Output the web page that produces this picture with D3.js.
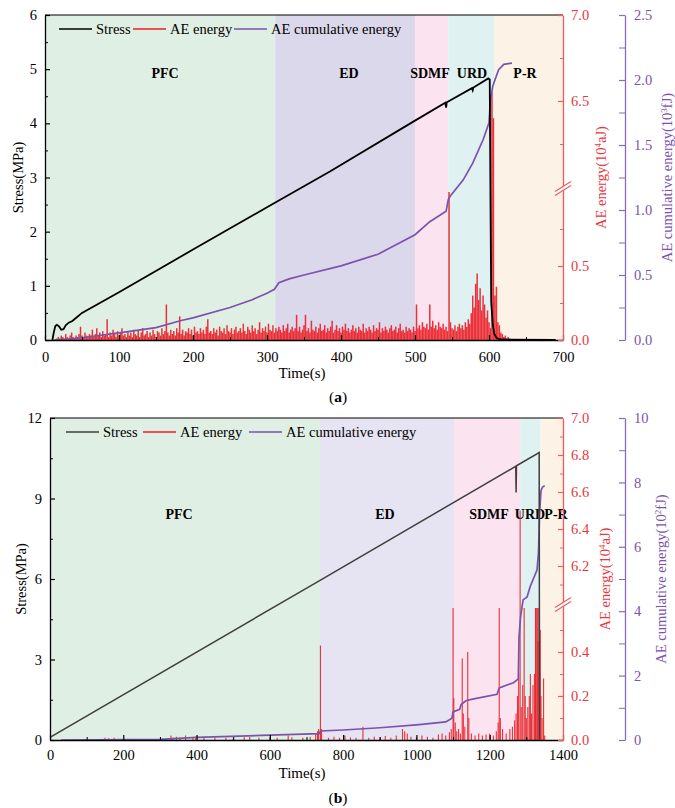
<!DOCTYPE html>
<html><head><meta charset="utf-8">
<script src="https://cdn.jsdelivr.net/npm/d3@7"></script>
<style>
body{margin:0;background:#fff;}
svg{display:block;font-family:"Liberation Serif","Times New Roman",serif;}
</style></head><body>
<svg id="c" width="675" height="808"></svg>
<script>
// ---------------- DATA ----------------
const stageNames = ["PFC","ED","SDMF","URD","P-R"];
const stageBoundsA = [0,311,500,545,607,700];
const stageBoundsB = [0,737,1103,1283,1339,1400];

// Panel (a) stress [time s, MPa]
const stressA = [[10,0],[12,0.15],[14,0.26],[16,0.28],[19,0.25],[22,0.19],[25,0.2],[28,0.27],[32,0.32],[37,0.35],[43,0.42],[50,0.5],[100,0.88],[200,1.67],[300,2.45],[385,3.11],[500,4.05],[541,4.38],[542,4.29],[543,4.39],[577,4.65],[578,4.61],[579,4.66],[599,4.83],[601,4.81],[602,2.6],[603,0.7],[605,0.3],[607,0.12],[610,0.04],[615,0.01],[690,0]];
// Panel (a) AE cumulative energy (10^3 fJ)
const cumA = [[12,0],[30,0.005],[60,0.025],[100,0.055],[150,0.095],[184,0.15],[200,0.17],[250,0.25],[280,0.31],[300,0.36],[310,0.39],[316,0.44],[330,0.47],[350,0.5],[400,0.57],[450,0.66],[500,0.81],[520,0.91],[542,0.99],[545,1.08],[548,1.11],[565,1.23],[578,1.36],[592,1.54],[600,1.67],[602,1.85],[605,1.95],[608,2.0],[613,2.08],[620,2.12],[631,2.13]];
// Panel (a) AE energy (10^4 aJ), sampled every 2 s from t = 14 s
const aeStartA = 14, aeStepA = 2;
const aeEnergyA = [
0.00,0.01,0.02,0.01,0.03,0.02,0.01,0.04,0.02,0.01,0.03,0.05,0.02,0.01,0.03,0.02,0.04,0.09,0.03,0.02,0.05,0.03,0.02,0.04,0.03,
0.07,0.02,0.04,0.08,0.03,0.05,0.02,0.06,0.03,0.04,0.14,0.02,0.05,0.03,0.07,0.04,0.02,0.06,0.03,0.05,0.08,0.03,0.04,0.02,0.06,
0.03,0.05,0.02,0.07,0.04,0.03,0.06,0.02,0.05,0.08,0.03,0.04,0.06,0.02,0.05,0.03,0.07,0.04,0.02,0.06,0.05,0.03,0.08,0.04,0.06,
0.24,0.05,0.03,0.07,0.04,0.06,0.03,0.08,0.05,0.16,0.04,0.07,0.03,0.06,0.05,0.08,0.04,0.07,0.03,0.09,0.05,0.06,0.04,0.08,0.05,
0.07,0.04,0.09,0.14,0.05,0.06,0.04,0.08,0.05,0.07,0.03,0.09,0.06,0.05,0.08,0.04,0.10,0.06,0.05,0.08,0.04,0.07,0.09,0.05,0.06,
0.08,0.05,0.11,0.06,0.04,0.09,0.07,0.05,0.10,0.06,0.08,0.04,0.07,0.12,0.05,0.08,0.06,0.09,0.05,0.11,0.07,0.06,0.10,0.05,0.08,
0.06,0.09,0.07,0.05,0.10,0.06,0.08,0.11,0.05,0.07,0.09,0.06,0.08,0.17,0.06,0.09,0.05,0.07,0.10,0.17,0.06,0.08,0.05,0.13,0.07,
0.06,0.09,0.05,0.08,0.11,0.06,0.07,0.10,0.05,0.08,0.06,0.09,0.13,0.05,0.07,0.10,0.06,0.08,0.05,0.09,0.07,0.11,0.06,0.08,0.05,
0.07,0.10,0.06,0.08,0.05,0.09,0.07,0.06,0.11,0.05,0.08,0.06,0.09,0.07,0.05,0.10,0.06,0.08,0.07,0.12,0.05,0.08,0.06,0.09,0.07,
0.05,0.08,0.10,0.06,0.07,0.09,0.05,0.08,0.11,0.06,0.07,0.05,0.09,0.06,0.08,0.07,0.05,0.09,0.06,0.24,0.08,0.10,0.07,0.12,0.09,
0.08,0.11,0.07,0.24,0.09,0.13,0.08,0.10,0.07,0.12,0.09,0.08,0.11,0.07,0.09,0.06,1.00,0.12,0.08,0.07,0.10,0.06,0.09,0.11,0.08,
0.10,0.07,0.12,0.09,0.14,0.11,0.18,0.30,0.22,0.38,0.45,0.27,0.35,0.20,0.30,0.24,0.15,0.20,0.12,0.08,6.55,6.40,0.30,0.36,0.12,
0.10,0.05,0.04,0.02,0.03,0.01,0.02,0.01];

// Panel (b) stress
const stressB = [[0,0.1],[737,5.95],[1271,10.2],[1272,9.22],[1273,10.22],[1335,10.71],[1336,0.05]];
// Panel (b) AE cumulative energy (10^2 fJ)
const cumB = [[30,0],[300,0.02],[400,0.08],[600,0.15],[735,0.2],[738,0.28],[800,0.31],[900,0.38],[1000,0.47],[1080,0.56],[1097,0.68],[1100,0.87],[1118,0.95],[1122,1.1],[1135,1.22],[1150,1.26],[1220,1.42],[1226,1.62],[1265,1.78],[1278,1.9],[1280,3.2],[1284,3.8],[1291,4.35],[1302,4.44],[1310,4.75],[1329,5.28],[1333,5.8],[1336,7.0],[1340,7.75],[1344,7.85],[1350,7.9]];
// Panel (b) AE energy (10^4 aJ) [time, value]
const aeEnergyB = [[150,0.01],[160,0.008],[175,0.01],[330,0.02],[335,0.01],[345,0.015],[355,0.01],[370,0.02],[390,0.01],[398,0.015],
[420,0.01],[450,0.012],[480,0.01],[500,0.008],[530,0.012],[545,0.015],[570,0.01],[600,0.015],[620,0.01],[650,0.02],[660,0.012],[690,0.01],[710,0.015],[725,0.03],[730,0.04],[733,0.05],
[738,0.43],[741,0.05],[760,0.01],[775,0.015],[790,0.01],[805,0.02],[820,0.012],[835,0.01],[854,0.06],[870,0.01],[885,0.015],[900,0.012],[915,0.018],[930,0.01],[945,0.02],[962,0.05],[968,0.04],[975,0.03],[985,0.015],[1000,0.012],[1015,0.02],[1030,0.015],[1045,0.01],[1060,0.025],[1070,0.03],[1080,0.02],[1090,0.035],[1095,0.05],
[1100,0.6],[1102,0.19],[1106,0.08],[1110,0.04],[1115,0.05],[1120,0.03],[1125,0.37],[1128,0.12],[1132,0.06],[1140,0.40],[1143,0.1],[1150,0.03],[1160,0.02],[1170,0.03],[1180,0.02],[1190,0.025],[1200,0.03],[1210,0.02],[1218,0.04],[1223,0.08],[1226,0.6],[1229,0.1],[1235,0.05],[1245,0.03],[1255,0.05],[1262,0.06],[1268,0.09],[1272,0.12],[1276,0.2],[1279,0.3],[1283,6.5],[1286,0.15],[1290,0.25],[1294,0.6],[1297,0.2],[1300,0.1],[1304,0.15],[1308,0.2],[1311,0.3],[1314,0.12],[1318,0.25],[1322,0.3],[1325,0.6],[1327,0.6],[1330,0.6],[1332,0.45],[1334,0.6],[1336,0.3],[1338,0.5],[1340,0.2],[1343,0.1],[1347,0.28],[1350,0.02]];

// Tick values
const ticksA = {x:[0,100,200,300,400,500,600,700], xm:[50,150,250,350,450,550,650],
  s:[0,1,2,3,4,5,6], sm:[0.5,1.5,2.5,3.5,4.5,5.5],
  e:[0,0.5,6.5,7.0], em:[0.25,0.75,6.25,6.75],
  c:[0,0.5,1.0,1.5,2.0,2.5], cm:[0.25,0.75,1.25,1.75,2.25]};
const ticksB = {x:[0,200,400,600,800,1000,1200,1400], xm:[100,300,500,700,900,1100,1300],
  s:[0,3,6,9,12], sm:[1.5,4.5,7.5,10.5],
  e:[0,0.2,0.4,6.2,6.4,6.6,6.8,7.0], em:[0.1,0.3,0.5,6.1,6.3,6.5,6.7,6.9],
  c:[0,2,4,6,8,10], cm:[1,3,5,7,9]};

// ---------------- DRAW ----------------
const svg = d3.select("#c");
const FONT = "'Liberation Serif','Times New Roman',serif";
const colStress = ["#000000","#3f3f3f"];
const colRed = "#ee1c25", colRedAxis = "#f25a5c", colRedText = "#e8383c";
const colPurple = "#7b52ad", colPurpleAxis = "#8a6bb8";
const bgA = ["#e0efe4","#dcd8ec","#fbe3ef","#dff1f0","#fdf2e6"];
const bgB = ["#e0efe4","#e6e3f2","#fbe3ef","#dff1f0","#fdf2e6"];

const panels = [
 {id:"a", xDom:[0,700], L:45, R:563, T:15, B:340, P:625,
  sDom:[0,6], eDom:[0,1.0,6.0,7.0], eBreakPx:5, cDom:[0,2.5],
  stress:stressA, cum:cumA, ae:aeEnergyA.map((v,i)=>[aeStartA+i*aeStepA,v]),
  ticks:ticksA, bounds:stageBoundsA, bg:bgA, stressCol:colStress[0], stressW:1.8,
  sFmt:d3.format("d"), eFmt:d3.format(".1f"), cFmt:d3.format(".1f"),
  xPad:12, legY:29, leg:[59,133,234], stageY:78, stagePos:[165,349,430,472,525],
  sTitleX:18, eTitleX:601, cTitleX:667, timeY:378, labY:402, cExp:"3", aeW:1.5},
 {id:"b", xDom:[0,1400], L:50, R:563, T:418, B:740, P:625,
  sDom:[0,12], eDom:[0,0.6,6.0,7.0], eBreakPx:5, cDom:[0,10],
  stress:stressB, cum:cumB, ae:aeEnergyB,
  ticks:ticksB, bounds:stageBoundsB, bg:bgB, stressCol:colStress[1], stressW:1.5,
  sFmt:d3.format("d"), eFmt:d3.format(".1f"), cFmt:d3.format("d"),
  xPad:10, legY:432, leg:[66,143,249], stageY:519, stagePos:[179,385,489,530,556],
  sTitleX:21, eTitleX:605, cTitleX:661, timeY:778, labY:803, cExp:"2", aeW:1.1}
];

panels.forEach(p => {
  const g = svg.append("g");
  const x = d3.scaleLinear().domain(p.xDom).range([p.L,p.R]);
  const yS = d3.scaleLinear().domain(p.sDom).range([p.B,p.T]);
  const lowTop = p.B - (p.B - p.T) * (p.id==="a" ? 148/325 : 132/322);
  const yE = d3.scaleLinear().domain(p.eDom).range([p.B, lowTop, lowTop - p.eBreakPx, p.T]);
  const yC = d3.scaleLinear().domain(p.cDom).range([p.B,p.T]);

  const clipId = "clip"+p.id;
  g.append("clipPath").attr("id",clipId).append("rect")
    .attr("x",p.L).attr("y",p.T).attr("width",p.R-p.L).attr("height",p.B-p.T);

  // stage backgrounds
  const stages = stageNames.map((n,i)=>({n, a:p.bounds[i], b:p.bounds[i+1], c:p.bg[i]}));
  g.selectAll("rect.bg").data(stages).join("rect").attr("class","bg")
    .attr("x",d=>x(d.a)).attr("width",d=>x(d.b)-x(d.a))
    .attr("y",p.T).attr("height",p.B-p.T).attr("fill",d=>d.c);

  // stage labels
  g.selectAll("text.st").data(stages).join("text").attr("class","st")
    .attr("x",(d,i)=>p.stagePos[i]).attr("y",p.stageY)
    .attr("text-anchor","middle").attr("font-weight","bold").attr("font-size",14)
    .text(d=>d.n);

  const dg = g.append("g").attr("clip-path",`url(#${clipId})`);
  // AE energy spikes
  dg.selectAll("line.ae").data(p.ae).join("line").attr("class","ae")
    .attr("x1",d=>x(d[0])).attr("x2",d=>x(d[0]))
    .attr("y1",yE(0)).attr("y2",d=>yE(d[1]))
    .attr("stroke",colRed).attr("stroke-width",p.aeW).attr("opacity",0.9);
  // cumulative
  dg.append("path").datum(p.cum)
    .attr("d",d3.line().x(d=>x(d[0])).y(d=>yC(d[1])))
    .attr("fill","none").attr("stroke",colPurple).attr("stroke-width",1.7);
  // stress
  dg.append("path").datum(p.stress)
    .attr("d",d3.line().x(d=>x(d[0])).y(d=>yS(d[1])))
    .attr("fill","none").attr("stroke",p.stressCol).attr("stroke-width",p.stressW);

  // top border
  g.append("line").attr("x1",p.L).attr("x2",p.R).attr("y1",p.T).attr("y2",p.T)
    .attr("stroke","#000").attr("stroke-width",1.2);

  const styleAxis = (sel,col,fs)=>{
    sel.attr("color",col).attr("font-family",FONT).attr("font-size",fs);
    sel.select(".domain").attr("stroke-width",1.3);
    sel.selectAll(".tick line").attr("stroke-width",1.2);
  };
  // bottom axis
  const bx = g.append("g").attr("transform",`translate(0,${p.B})`)
    .call(d3.axisBottom(x).tickValues(p.ticks.x).tickFormat(d3.format("d")).tickSizeInner(-5).tickSizeOuter(0).tickPadding(p.xPad));
  styleAxis(bx,"#000",14.5);
  g.append("g").attr("transform",`translate(0,${p.B})`)
    .call(d3.axisBottom(x).tickValues(p.ticks.xm).tickFormat("").tickSizeInner(-3).tickSizeOuter(0))
    .call(s=>{s.select(".domain").remove(); s.attr("color","#000");});
  // left axis
  const ly = g.append("g").attr("transform",`translate(${p.L},0)`)
    .call(d3.axisLeft(yS).tickValues(p.ticks.s).tickFormat(p.sFmt).tickSizeInner(-5).tickSizeOuter(0).tickPadding(8));
  styleAxis(ly,"#000",14.5);
  g.append("g").attr("transform",`translate(${p.L},0)`)
    .call(d3.axisLeft(yS).tickValues(p.ticks.sm).tickFormat("").tickSizeInner(-3).tickSizeOuter(0))
    .call(s=>{s.select(".domain").remove(); s.attr("color","#000");});
  // red axis
  const ry = g.append("g").attr("transform",`translate(${p.R},0)`)
    .call(d3.axisRight(yE).tickValues(p.ticks.e).tickFormat(p.eFmt).tickSizeInner(-5).tickSizeOuter(0).tickPadding(8));
  styleAxis(ry,colRedAxis,14.5);
  ry.selectAll("text").attr("fill",colRedText);
  g.append("g").attr("transform",`translate(${p.R},0)`)
    .call(d3.axisRight(yE).tickValues(p.ticks.em).tickFormat("").tickSizeInner(-3).tickSizeOuter(0))
    .call(s=>{s.select(".domain").remove(); s.attr("color",colRedAxis);});
  // break mark
  const by = lowTop - p.eBreakPx/2;
  const bk = g.append("g").attr("transform",`translate(${p.R},${by})`);
  bk.append("polygon").attr("points","-8,6 8,-4 8,-8 -8,2").attr("fill","#fff");
  bk.append("line").attr("x1",-8).attr("y1",6).attr("x2",8).attr("y2",-4).attr("stroke",colRedAxis).attr("stroke-width",1.2);
  bk.append("line").attr("x1",-8).attr("y1",2).attr("x2",8).attr("y2",-8).attr("stroke",colRedAxis).attr("stroke-width",1.2);
  // purple axis
  const cy = g.append("g").attr("transform",`translate(${p.P},0)`)
    .call(d3.axisRight(yC).tickValues(p.ticks.c).tickFormat(p.cFmt).tickSizeInner(-6).tickSizeOuter(0).tickPadding(9));
  styleAxis(cy,colPurpleAxis,14.5);
  cy.selectAll("text").attr("fill",colPurple);
  g.append("g").attr("transform",`translate(${p.P},0)`)
    .call(d3.axisRight(yC).tickValues(p.ticks.cm).tickFormat("").tickSizeInner(-6).tickSizeOuter(0))
    .call(s=>{s.select(".domain").remove(); s.attr("color",colPurpleAxis);});

  const midY = (p.T+p.B)/2;
  // titles
  g.append("text").attr("transform",`translate(${p.sTitleX},${midY}) rotate(-90)`)
    .attr("text-anchor","middle").attr("dy","0.35em").attr("font-size",14.5).text("Stress(MPa)");
  const et = g.append("text").attr("transform",`translate(${p.eTitleX},${midY}) rotate(-90)`)
    .attr("text-anchor","middle").attr("dy","0.35em").attr("font-size",14.5).attr("fill",colRedText);
  et.append("tspan").text("AE energy(10");
  et.append("tspan").attr("baseline-shift","super").attr("font-size",9).text("4");
  et.append("tspan").text("aJ)");
  const ct = g.append("text").attr("transform",`translate(${p.cTitleX},${midY}) rotate(-90)`)
    .attr("text-anchor","middle").attr("dy","0.35em").attr("font-size",14.5).attr("fill",colPurple);
  ct.append("tspan").text("AE cumulative energy(10");
  ct.append("tspan").attr("baseline-shift","super").attr("font-size",9).text(p.cExp);
  ct.append("tspan").text("fJ)");
  g.append("text").attr("x",302).attr("y",p.timeY).attr("text-anchor","middle").attr("font-size",15).text("Time(s)");
  const lab = g.append("text").attr("x",338).attr("y",p.labY).attr("text-anchor","middle").attr("font-size",15.5);
  lab.append("tspan").text("(");
  lab.append("tspan").attr("font-weight","bold").text(p.id);
  lab.append("tspan").text(")");

  // legend
  const legItems = [{t:"Stress",c:p.stressCol},{t:"AE energy",c:colRed},{t:"AE cumulative energy",c:colPurple}];
  legItems.forEach((it,i)=>{
    const lx = p.leg[i];
    g.append("line").attr("x1",lx).attr("x2",lx+33).attr("y1",p.legY).attr("y2",p.legY)
      .attr("stroke",it.c).attr("stroke-width",1.7);
    g.append("text").attr("x",lx+37).attr("y",p.legY).attr("dy","0.33em").attr("font-size",14.5).text(it.t);
  });
});
</script>
</body></html>
